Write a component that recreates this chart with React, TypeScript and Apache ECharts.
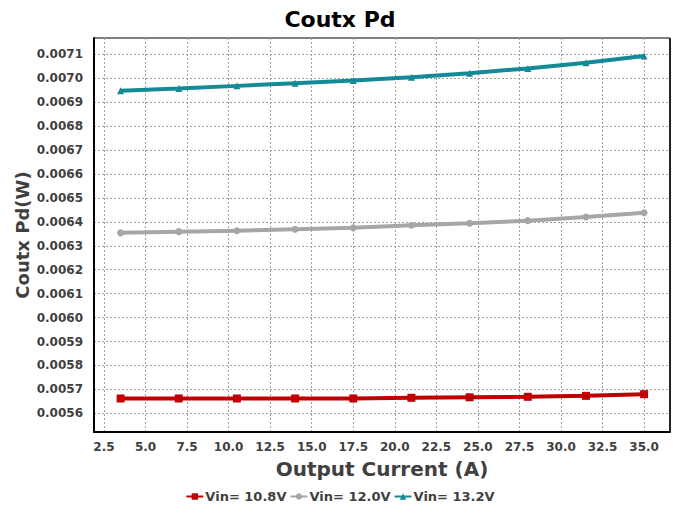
import React, { useEffect, useRef } from "react";
import * as echarts from "echarts";

const current = [3.5, 7, 10.5, 14, 17.5, 21, 24.5, 28, 31.5, 35];
const vin108 = [0.005662, 0.005662, 0.005662, 0.005662, 0.005662, 0.005665, 0.005667, 0.005669, 0.005673, 0.00568];
const vin120 = [0.006354, 0.006359, 0.006363, 0.006369, 0.006375, 0.006386, 0.006394, 0.006405, 0.00642, 0.006438];
const vin132 = [0.006948, 0.006957, 0.006968, 0.006979, 0.00699, 0.007004, 0.007021, 0.007041, 0.007065, 0.007093];
const xTicks = [2.5, 5, 7.5, 10, 12.5, 15, 17.5, 20, 22.5, 25, 27.5, 30, 32.5, 35];
const yTicks = [0.0056, 0.0057, 0.0058, 0.0059, 0.006, 0.0061, 0.0062, 0.0063, 0.0064, 0.0065, 0.0066, 0.0067, 0.0068, 0.0069, 0.007, 0.0071];
const seriesNames = ["Vin= 10.8V", "Vin= 12.0V", "Vin= 13.2V"];

export default function App() {
  const ref = useRef<HTMLDivElement>(null);
  useEffect(() => {
    document.body.style.margin = "0";
    const chart = echarts.init(ref.current!, null, { renderer: "svg" });
    const font = "DejaVu Sans, Verdana, sans-serif";
    const mk = (arr: number[]) => current.map((x, i) => [x, arr[i]]);
    chart.setOption({
      animation: false,
      title: {
        text: "Coutx Pd",
        left: "center",
        top: 3,
        textStyle: { fontFamily: font, fontSize: 22, fontWeight: "bold", color: "#000" },
      },
      grid: { left: 94, right: 10, top: 38, bottom: 83 },
      legend: {
        bottom: 7,
        left: "center",
        itemWidth: 17,
        itemHeight: 8,
        itemGap: 3,
        textStyle: { fontFamily: font, fontSize: 13, fontWeight: "bold", color: "#404040", padding: [0, 0, 0, -3] },
        data: seriesNames,
      },
      xAxis: {
        type: "value",
        min: 1.9,
        max: 36.56,
        name: "Output Current (A)",
        nameLocation: "middle",
        nameGap: 27,
        nameMoveOverlap: false,
        nameTextStyle: { fontFamily: font, fontSize: 20, fontWeight: "bold", color: "#404040" },
        axisLine: { show: true, lineStyle: { color: "#000", width: 2 } },
        axisTick: { show: false, customValues: xTicks },
        axisLabel: {
          customValues: xTicks,
          formatter: (v: number) => v.toFixed(1),
          fontFamily: font,
          fontSize: 12,
          fontWeight: "bold",
          color: "#404040",
          margin: 9,
        },
        splitLine: { show: true, lineStyle: { type: [2, 2], color: "#a0a0a0", width: 1 } },
      },
      yAxis: {
        type: "value",
        min: 0.005522,
        max: 0.007168,
        name: "Coutx Pd(W)",
        nameLocation: "middle",
        nameGap: 63,
        nameMoveOverlap: false,
        nameTextStyle: { fontFamily: font, fontSize: 18, fontWeight: "bold", color: "#404040" },
        axisLine: { show: true, lineStyle: { color: "#000", width: 2 } },
        axisTick: { show: false, customValues: yTicks },
        axisLabel: {
          customValues: yTicks,
          formatter: (v: number) => v.toFixed(4),
          fontFamily: font,
          fontSize: 12,
          fontWeight: "bold",
          color: "#404040",
          margin: 11,
        },
        splitLine: { show: true, lineStyle: { type: [2, 2], color: "#a0a0a0", width: 1 } },
      },
      series: [
        {
          name: seriesNames[0],
          type: "line",
          data: mk(vin108),
          color: "#c00000",
          symbol: "rect",
          symbolSize: 8,
          lineStyle: { width: 4 },
        },
        {
          name: seriesNames[1],
          type: "line",
          data: mk(vin120),
          color: "#a6a6a6",
          symbol: "circle",
          symbolSize: 7,
          lineStyle: { width: 4 },
        },
        {
          name: seriesNames[2],
          type: "line",
          data: mk(vin132),
          color: "#138a96",
          symbol: "triangle",
          symbolSize: 7,
          lineStyle: { width: 4 },
        },
      ],
      graphic: [
        { type: "line", shape: { x1: 94, y1: 38, x2: 670, y2: 38 }, style: { stroke: "#808080", lineWidth: 2 } },
        { type: "line", shape: { x1: 670, y1: 38, x2: 670, y2: 432 }, style: { stroke: "#222", lineWidth: 2 } },
      ],
    });
    return () => chart.dispose();
  }, []);
  return <div ref={ref} style={{ width: 680, height: 515 }} />;
}
